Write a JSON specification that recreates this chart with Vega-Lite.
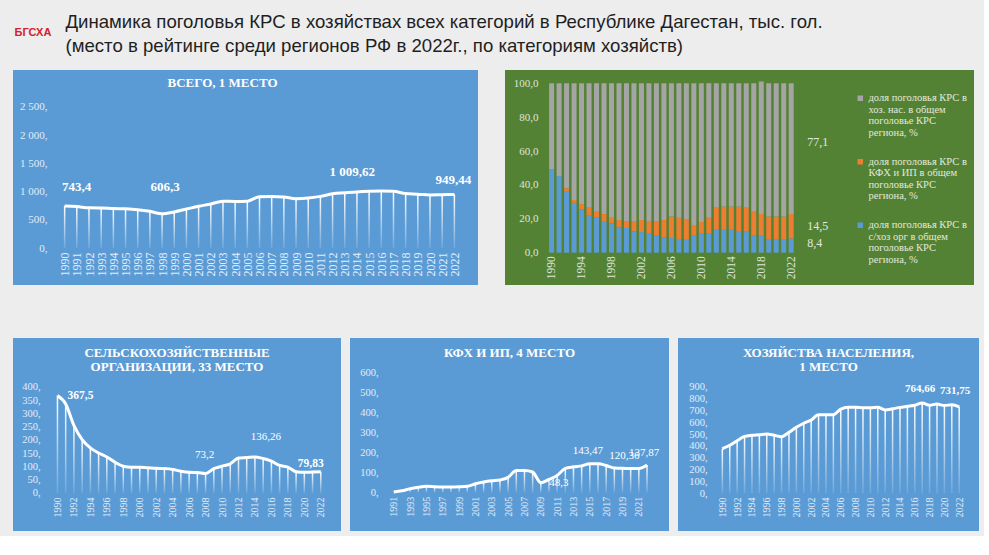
{
"$schema":"https://vega.github.io/schema/vega-lite/v6.json",
"background":"#ededed",
"padding":{"left":13,"top":10,"right":5,"bottom":5},
"config":{
 "view":{"stroke":null},
 "locale":{"number":{"decimal":",","thousands":" ","grouping":[3],"currency":["",""]}},
 "axis":{"domain":false,"ticks":false,"grid":false,"labelFont":"Liberation Serif","labelOverlap":false,"labelFlush":false,"labelBound":false,"labelColor":"#e3ecf7"},
 "title":{"font":"Liberation Serif","fontWeight":"bold","color":"#ffffff","anchor":"middle","frame":"group","fontSize":13,"lineHeight":14},
 "text":{"font":"Liberation Serif","color":"#ffffff"}
},
"spacing":12,
"vconcat":[
 {"bounds":"flush","spacing":12,"hconcat":[
  {"width":40,"height":48,"data":{"values":[{"t":"БГСХА"}]},
   "mark":{"type":"text","font":"Liberation Sans","fontWeight":"bold","fontSize":11,"color":"#d2232a","baseline":"middle","dy":-1},
   "encoding":{"text":{"field":"t"}}},
  {"width":1,"height":48,"data":{"values":[{"t":"Динамика поголовья КРС в хозяйствах всех категорий в Республике Дагестан, тыс. гол.\n(место в рейтинге среди регионов РФ в 2022г., по категориям хозяйств)"}]},
   "mark":{"type":"text","font":"Liberation Sans","fontSize":18.6,"color":"#1f1f1f","align":"left","baseline":"middle","lineBreak":"\n","lineHeight":24,"dy":-12},
   "encoding":{"text":{"field":"t"}}}
 ]},
 {"spacing":53,"vconcat":[
  {"bounds":"flush","spacing":27,"hconcat":[
   {
    "width":465,"height":215,
    "view":{"fill":"#5b9bd5","stroke":null},
    "title":{"text":"ВСЕГО, 1 МЕСТО","offset":-20,"dx":-23},
    "data":{"values":[
     {"year":1990,"value":743.4},{"year":1991,"value":735},{"year":1992,"value":712},{"year":1993,"value":710},
     {"year":1994,"value":700},{"year":1995,"value":695},{"year":1996,"value":680},{"year":1997,"value":650},
     {"year":1998,"value":606.3},{"year":1999,"value":640},{"year":2000,"value":690},{"year":2001,"value":740},
     {"year":2002,"value":780},{"year":2003,"value":830},{"year":2004,"value":825},{"year":2005,"value":830},
     {"year":2006,"value":910},{"year":2007,"value":915},{"year":2008,"value":905},{"year":2009,"value":875},
     {"year":2010,"value":885},{"year":2011,"value":915},{"year":2012,"value":960},{"year":2013,"value":978},
     {"year":2014,"value":995},{"year":2015,"value":1005},{"year":2016,"value":1009.62},{"year":2017,"value":1005},
     {"year":2018,"value":965},{"year":2019,"value":955},{"year":2020,"value":940},{"year":2021,"value":945},
     {"year":2022,"value":949.44}
    ]},
    "encoding":{
     "x":{"field":"year","type":"quantitative","scale":{"domain":[1986.17,2023.53],"nice":false,"zero":false},
      "axis":{"title":null,"values":[1990,1991,1992,1993,1994,1995,1996,1997,1998,1999,2000,2001,2002,2003,2004,2005,2006,2007,2008,2009,2010,2011,2012,2013,2014,2015,2016,2017,2018,2019,2020,2021,2022],"format":"d","labelAngle":-90,"labelFontSize":12,"offset":-37,"labelPadding":4}},
     "y":{"field":"value","type":"quantitative","scale":{"domain":[-656,3156],"nice":false,"zero":false},
      "axis":{"title":null,"values":[0,500,1000,1500,2000,2500],"format":",d","labelExpr":"datum.label + ','","labelFontSize":11,"offset":-34,"labelPadding":0}}
    },
    "layer":[
     {"mark":{"type":"bar","size":1.5,"color":{"gradient":"linear","x1":0,"y1":0,"x2":0,"y2":1,"stops":[{"offset":0,"color":"#ffffff"},{"offset":1,"color":"rgba(255,255,255,0.12)"}]}}},
     {"data":{"values":[{}]},"mark":{"type":"rule","color":"#ffffff","strokeWidth":3,"opacity":0.9},
      "encoding":{"x":{"datum":1989.5},"x2":{"datum":2022.5},"y":{"datum":0}}},
     {"data":{"values":[{}]},"mark":{"type":"rule","color":"#e8eef7","strokeWidth":1},
      "encoding":{"x":{"datum":1998},"y":{"datum":650},"y2":{"datum":985}}},
     {"data":{"values":[{}]},"mark":{"type":"rule","color":"#e8eef7","strokeWidth":1},
      "encoding":{"x":{"datum":2016},"y":{"datum":1050},"y2":{"datum":1350}}},
     {"data":{"values":[{}]},"mark":{"type":"rule","color":"#e8eef7","strokeWidth":1},
      "encoding":{"x":{"datum":2015.7},"x2":{"datum":2016},"y":{"datum":1350}}},
     {"mark":{"type":"line","interpolate":"monotone","color":"#ffffff","strokeWidth":3}},
     {"transform":[{"filter":"datum.year == 1990"}],"mark":{"type":"text","dx":12,"dy":-19,"fontWeight":"bold","fontSize":13},"encoding":{"text":{"field":"value","type":"quantitative","format":",.2~f"}}},
     {"transform":[{"filter":"datum.year == 1998"}],"mark":{"type":"text","dx":3,"dy":-27,"fontWeight":"bold","fontSize":13},"encoding":{"text":{"field":"value","type":"quantitative","format":",.2~f"}}},
     {"transform":[{"filter":"datum.year == 2016"}],"mark":{"type":"text","dx":-29,"dy":-19,"fontWeight":"bold","fontSize":13},"encoding":{"text":{"field":"value","type":"quantitative","format":",.2~f"}}},
     {"transform":[{"filter":"datum.year == 2022"}],"mark":{"type":"text","dx":-1,"dy":-14,"fontWeight":"bold","fontSize":13},"encoding":{"text":{"field":"value","type":"quantitative","format":",.2~f"}}}
    ]
   },
   {
    "width":469,"height":215,
    "view":{"fill":"#548235","stroke":null},
    "data":{"values":[
     {"year":1990,"cat":"с/хоз орг","n":1,"value":49.4},{"year":1990,"cat":"КФХ и ИП","n":2,"value":0},{"year":1990,"cat":"хоз. нас.","n":3,"value":50.6},
     {"year":1991,"cat":"с/хоз орг","n":1,"value":45.3},{"year":1991,"cat":"КФХ и ИП","n":2,"value":0},{"year":1991,"cat":"хоз. нас.","n":3,"value":54.7},
     {"year":1992,"cat":"с/хоз орг","n":1,"value":36.4},{"year":1992,"cat":"КФХ и ИП","n":2,"value":1.6},{"year":1992,"cat":"хоз. нас.","n":3,"value":62.0},
     {"year":1993,"cat":"с/хоз орг","n":1,"value":29.5},{"year":1993,"cat":"КФХ и ИП","n":2,"value":1.6},{"year":1993,"cat":"хоз. нас.","n":3,"value":68.9},
     {"year":1994,"cat":"с/хоз орг","n":1,"value":25.6},{"year":1994,"cat":"КФХ и ИП","n":2,"value":3.1},{"year":1994,"cat":"хоз. нас.","n":3,"value":71.3},
     {"year":1995,"cat":"с/хоз орг","n":1,"value":22.2},{"year":1995,"cat":"КФХ и ИП","n":2,"value":4.4},{"year":1995,"cat":"хоз. нас.","n":3,"value":73.4},
     {"year":1996,"cat":"с/хоз орг","n":1,"value":20.7},{"year":1996,"cat":"КФХ и ИП","n":2,"value":3.5},{"year":1996,"cat":"хоз. нас.","n":3,"value":75.8},
     {"year":1997,"cat":"с/хоз орг","n":1,"value":18.7},{"year":1997,"cat":"КФХ и ИП","n":2,"value":4.1},{"year":1997,"cat":"хоз. нас.","n":3,"value":77.2},
     {"year":1998,"cat":"с/хоз орг","n":1,"value":17.3},{"year":1998,"cat":"КФХ и ИП","n":2,"value":3.4},{"year":1998,"cat":"хоз. нас.","n":3,"value":79.3},
     {"year":1999,"cat":"с/хоз орг","n":1,"value":15.0},{"year":1999,"cat":"КФХ и ИП","n":2,"value":4.3},{"year":1999,"cat":"хоз. нас.","n":3,"value":80.7},
     {"year":2000,"cat":"с/хоз орг","n":1,"value":14.6},{"year":2000,"cat":"КФХ и ИП","n":2,"value":4.1},{"year":2000,"cat":"хоз. нас.","n":3,"value":81.3},
     {"year":2001,"cat":"с/хоз орг","n":1,"value":12.6},{"year":2001,"cat":"КФХ и ИП","n":2,"value":6.1},{"year":2001,"cat":"хоз. нас.","n":3,"value":81.3},
     {"year":2002,"cat":"с/хоз орг","n":1,"value":12.2},{"year":2002,"cat":"КФХ и ИП","n":2,"value":7.1},{"year":2002,"cat":"хоз. нас.","n":3,"value":80.7},
     {"year":2003,"cat":"с/хоз орг","n":1,"value":11.2},{"year":2003,"cat":"КФХ и ИП","n":2,"value":7.5},{"year":2003,"cat":"хоз. нас.","n":3,"value":81.3},
     {"year":2004,"cat":"с/хоз орг","n":1,"value":10.4},{"year":2004,"cat":"КФХ и ИП","n":2,"value":8.3},{"year":2004,"cat":"хоз. нас.","n":3,"value":81.3},
     {"year":2005,"cat":"с/хоз орг","n":1,"value":9.1},{"year":2005,"cat":"КФХ и ИП","n":2,"value":10.2},{"year":2005,"cat":"хоз. нас.","n":3,"value":80.7},
     {"year":2006,"cat":"с/хоз орг","n":1,"value":8.7},{"year":2006,"cat":"КФХ и ИП","n":2,"value":12.6},{"year":2006,"cat":"хоз. нас.","n":3,"value":78.7},
     {"year":2007,"cat":"с/хоз орг","n":1,"value":8.1},{"year":2007,"cat":"КФХ и ИП","n":2,"value":12.6},{"year":2007,"cat":"хоз. нас.","n":3,"value":79.3},
     {"year":2008,"cat":"с/хоз орг","n":1,"value":8.1},{"year":2008,"cat":"КФХ и ИП","n":2,"value":11.8},{"year":2008,"cat":"хоз. нас.","n":3,"value":80.1},
     {"year":2009,"cat":"с/хоз орг","n":1,"value":10.4},{"year":2009,"cat":"КФХ и ИП","n":2,"value":5.5},{"year":2009,"cat":"хоз. нас.","n":3,"value":84.1},
     {"year":2010,"cat":"с/хоз орг","n":1,"value":11.2},{"year":2010,"cat":"КФХ и ИП","n":2,"value":6.9},{"year":2010,"cat":"хоз. нас.","n":3,"value":81.9},
     {"year":2011,"cat":"с/хоз орг","n":1,"value":11.6},{"year":2011,"cat":"КФХ и ИП","n":2,"value":9.1},{"year":2011,"cat":"хоз. нас.","n":3,"value":79.3},
     {"year":2012,"cat":"с/хоз орг","n":1,"value":14.0},{"year":2012,"cat":"КФХ и ИП","n":2,"value":12.6},{"year":2012,"cat":"хоз. нас.","n":3,"value":73.4},
     {"year":2013,"cat":"с/хоз орг","n":1,"value":14.0},{"year":2013,"cat":"КФХ и ИП","n":2,"value":13.2},{"year":2013,"cat":"хоз. нас.","n":3,"value":72.8},
     {"year":2014,"cat":"с/хоз орг","n":1,"value":14.0},{"year":2014,"cat":"КФХ и ИП","n":2,"value":13.2},{"year":2014,"cat":"хоз. нас.","n":3,"value":72.8},
     {"year":2015,"cat":"с/хоз орг","n":1,"value":12.8},{"year":2015,"cat":"КФХ и ИП","n":2,"value":14.4},{"year":2015,"cat":"хоз. нас.","n":3,"value":72.8},
     {"year":2016,"cat":"с/хоз орг","n":1,"value":12.4},{"year":2016,"cat":"КФХ и ИП","n":2,"value":14.2},{"year":2016,"cat":"хоз. нас.","n":3,"value":73.4},
     {"year":2017,"cat":"с/хоз орг","n":1,"value":10.4},{"year":2017,"cat":"КФХ и ИП","n":2,"value":13.8},{"year":2017,"cat":"хоз. нас.","n":3,"value":75.8},
     {"year":2018,"cat":"с/хоз орг","n":1,"value":10.4},{"year":2018,"cat":"КФХ и ИП","n":2,"value":12.4},{"year":2018,"cat":"хоз. нас.","n":3,"value":78.2},
     {"year":2019,"cat":"с/хоз орг","n":1,"value":8.1},{"year":2019,"cat":"КФХ и ИП","n":2,"value":13.2},{"year":2019,"cat":"хоз. нас.","n":3,"value":78.7},
     {"year":2020,"cat":"с/хоз орг","n":1,"value":8.1},{"year":2020,"cat":"КФХ и ИП","n":2,"value":13.2},{"year":2020,"cat":"хоз. нас.","n":3,"value":78.7},
     {"year":2021,"cat":"с/хоз орг","n":1,"value":8.1},{"year":2021,"cat":"КФХ и ИП","n":2,"value":13.2},{"year":2021,"cat":"хоз. нас.","n":3,"value":78.7},
     {"year":2022,"cat":"с/хоз орг","n":1,"value":8.4},{"year":2022,"cat":"КФХ и ИП","n":2,"value":14.5},{"year":2022,"cat":"хоз. нас.","n":3,"value":77.1}
    ]},
    "layer":[
     {"mark":{"type":"bar","size":5},
      "encoding":{
       "x":{"field":"year","type":"quantitative","scale":{"domain":[1984.444,2045.75],"nice":false,"zero":false},
        "axis":{"title":null,"values":[1990,1992,1994,1996,1998,2000,2002,2004,2006,2008,2010,2012,2014,2016,2018,2020,2022],"format":"d","labelAngle":-90,"labelFontSize":11.5,"offset":-32.3,"labelPadding":3,"labelColor":"#dfe5d8"}},
       "y":{"field":"value","type":"quantitative","stack":"zero","scale":{"domain":[-19.07,107.85],"nice":false,"zero":false},
        "axis":{"title":null,"values":[0,10,20,30,40,50,60,70,80,90,100],"format":",.1f","labelFontSize":11,"offset":-33,"labelPadding":0,"labelColor":"#dfe5d8"}},
       "color":{"field":"cat","type":"nominal","scale":{"domain":["хоз. нас.","КФХ и ИП","с/хоз орг"],"range":["#a5a5a5","#ed7d31","#5b9bd5"]},
        "legend":{"title":null,"orient":"none","legendX":842,"legendY":83,"symbolType":"square","symbolSize":30,"symbolStrokeWidth":0,"labelFont":"Liberation Serif","labelFontSize":10.5,"labelColor":"#e2e8dc","labelLimit":200,"labelOffset":3,"rowPadding":17.5,
         "labelExpr":"datum.label == 'хоз. нас.' ? ['доля  поголовья КРС в', 'хоз. нас. в общем', 'поголовье КРС', 'региона, %'] : datum.label == 'КФХ и ИП' ? ['доля  поголовья КРС в', 'КФХ и ИП в общем', 'поголовье КРС', 'региона, %'] : ['доля  поголовья КРС в', 'с/хоз орг в общем', 'поголовье КРС', 'региона, %']",
         "encode":{"labels":{"update":{"lineHeight":{"value":11.5}}}}}},
       "order":{"field":"n","type":"quantitative"}
      }},
     {"transform":[{"filter":"datum.year == 2022 && datum.cat == 'хоз. нас.'"}],"mark":{"type":"text","align":"left","dx":16,"dy":19.6,"fontSize":12,"color":"#e2e8dc"},
      "encoding":{"x":{"field":"year","type":"quantitative"},"y":{"field":"value","type":"quantitative","stack":null},"text":{"field":"value","type":"quantitative","format":",.1f"}}},
     {"transform":[{"filter":"datum.year == 2022 && datum.cat == 'КФХ и ИП'"}],"mark":{"type":"text","align":"left","dx":16,"dy":-2,"fontSize":12,"color":"#e2e8dc"},
      "encoding":{"x":{"field":"year","type":"quantitative"},"y":{"field":"value","type":"quantitative","stack":null},"text":{"field":"value","type":"quantitative","format":",.1f"}}},
     {"transform":[{"filter":"datum.year == 2022 && datum.cat == 'с/хоз орг'"}],"mark":{"type":"text","align":"left","dx":16,"dy":4.5,"fontSize":12,"color":"#e2e8dc"},
      "encoding":{"x":{"field":"year","type":"quantitative"},"y":{"field":"value","type":"quantitative","stack":null},"text":{"field":"value","type":"quantitative","format":",.1f"}}}
    ]
   }
  ]},
  {"bounds":"flush","spacing":9,"hconcat":[
   {
    "width":328,"height":193,
    "view":{"fill":"#5b9bd5","stroke":null},
    "title":{"text":["СЕЛЬСКОХОЗЯЙСТВЕННЫЕ","ОРГАНИЗАЦИИ, 33 МЕСТО"],"offset":-36},
    "data":{"values":[
     {"year":1990,"value":367.5},{"year":1991,"value":336},{"year":1992,"value":255},{"year":1993,"value":201},
     {"year":1994,"value":170},{"year":1995,"value":151},{"year":1996,"value":136},{"year":1997,"value":116},
     {"year":1998,"value":101},{"year":1999,"value":97},{"year":2000,"value":97},{"year":2001,"value":95},
     {"year":2002,"value":93},{"year":2003,"value":92},{"year":2004,"value":89},{"year":2005,"value":82},
     {"year":2006,"value":78},{"year":2007,"value":77},{"year":2008,"value":73.2},{"year":2009,"value":92},
     {"year":2010,"value":101},{"year":2011,"value":110},{"year":2012,"value":132},{"year":2013,"value":134},
     {"year":2014,"value":136.26},{"year":2015,"value":130},{"year":2016,"value":120},{"year":2017,"value":104},
     {"year":2018,"value":98},{"year":2019,"value":80},{"year":2020,"value":78},{"year":2021,"value":79},
     {"year":2022,"value":79.83}
    ]},
    "encoding":{
     "x":{"field":"year","type":"quantitative","scale":{"domain":[1985.205,2023.85],"nice":false,"zero":false},
      "axis":{"title":null,"values":[1990,1992,1994,1996,1998,2000,2002,2004,2006,2008,2010,2012,2014,2016,2018,2020,2022],"format":"d","labelAngle":-90,"labelFontSize":10,"offset":-38,"labelPadding":4}},
     "y":{"field":"value","type":"quantitative","scale":{"domain":[-143.4,584.9],"nice":false,"zero":false},
      "axis":{"title":null,"values":[0,50,100,150,200,250,300,350,400],"format":",d","labelExpr":"datum.label + ','","labelFontSize":10.5,"offset":-27,"labelPadding":0}}
    },
    "layer":[
     {"mark":{"type":"bar","size":1.5,"color":{"gradient":"linear","x1":0,"y1":0,"x2":0,"y2":1,"stops":[{"offset":0,"color":"#ffffff"},{"offset":1,"color":"rgba(255,255,255,0.12)"}]}}},
     {"data":{"values":[{}]},"mark":{"type":"rule","color":"#ffffff","strokeWidth":2.5,"opacity":0.9},
      "encoding":{"x":{"datum":1989.5},"x2":{"datum":2022.5},"y":{"datum":0}}},
     {"mark":{"type":"line","interpolate":"monotone","color":"#ffffff","strokeWidth":3}},
     {"transform":[{"filter":"datum.year == 1990"}],"mark":{"type":"text","dx":23,"dy":0,"fontWeight":"bold","fontSize":11.5},"encoding":{"text":{"field":"value","type":"quantitative","format":",.2~f"}}},
     {"transform":[{"filter":"datum.year == 2008"}],"mark":{"type":"text","dx":-1,"dy":-19,"fontSize":11},"encoding":{"text":{"field":"value","type":"quantitative","format":",.2~f"}}},
     {"transform":[{"filter":"datum.year == 2014"}],"mark":{"type":"text","dx":11,"dy":-20,"fontSize":11},"encoding":{"text":{"field":"value","type":"quantitative","format":",.2~f"}}},
     {"transform":[{"filter":"datum.year == 2022"}],"mark":{"type":"text","dx":-10,"dy":-8,"fontWeight":"bold","fontSize":11.5},"encoding":{"text":{"field":"value","type":"quantitative","format":",.2~f"}}}
    ]
   },
   {
    "width":319,"height":193,
    "view":{"fill":"#5b9bd5","stroke":null},
    "title":{"text":"КФХ И ИП, 4 МЕСТО","offset":-22},
    "data":{"values":[
     {"year":1991,"value":2},{"year":1992,"value":8},{"year":1993,"value":18},{"year":1994,"value":25},
     {"year":1995,"value":30},{"year":1996,"value":28},{"year":1997,"value":27},{"year":1998,"value":27},
     {"year":1999,"value":28},{"year":2000,"value":30},{"year":2001,"value":43},{"year":2002,"value":52},
     {"year":2003,"value":58},{"year":2004,"value":62},{"year":2005,"value":75},{"year":2006,"value":110},
     {"year":2007,"value":110},{"year":2008,"value":102},{"year":2009,"value":48.3},{"year":2010,"value":65},
     {"year":2011,"value":85},{"year":2012,"value":120},{"year":2013,"value":128},{"year":2014,"value":133},
     {"year":2015,"value":143.47},{"year":2016,"value":143},{"year":2017,"value":135},{"year":2018,"value":122},
     {"year":2019,"value":120.36},{"year":2020,"value":120},{"year":2021,"value":120},{"year":2022,"value":137.87}
    ]},
    "encoding":{
     "x":{"field":"year","type":"quantitative","scale":{"domain":[1986.257,2024.08],"nice":false,"zero":false},
      "axis":{"title":null,"values":[1991,1993,1995,1997,1999,2001,2003,2005,2007,2009,2011,2013,2015,2017,2019,2021],"format":"d","labelAngle":-90,"labelFontSize":10,"offset":-38.7,"labelPadding":4}},
     "y":{"field":"value","type":"quantitative","scale":{"domain":[-194.6,776],"nice":false,"zero":false},
      "axis":{"title":null,"values":[0,100,200,300,400,500,600],"format":",d","labelExpr":"datum.label + ','","labelFontSize":10.5,"offset":-28,"labelPadding":0}}
    },
    "layer":[
     {"mark":{"type":"bar","size":1.5,"color":{"gradient":"linear","x1":0,"y1":0,"x2":0,"y2":1,"stops":[{"offset":0,"color":"#ffffff"},{"offset":1,"color":"rgba(255,255,255,0.12)"}]}}},
     {"data":{"values":[{}]},"mark":{"type":"rule","color":"#ffffff","strokeWidth":2.5,"opacity":0.9},
      "encoding":{"x":{"datum":1990.6},"x2":{"datum":2022.5},"y":{"datum":0}}},
     {"mark":{"type":"line","interpolate":"monotone","color":"#ffffff","strokeWidth":3}},
     {"transform":[{"filter":"datum.year == 2009"}],"mark":{"type":"text","dx":18,"dy":0,"fontSize":11},"encoding":{"text":{"field":"value","type":"quantitative","format":",.2~f"}}},
     {"transform":[{"filter":"datum.year == 2015"}],"mark":{"type":"text","dx":-2,"dy":-13,"fontSize":11},"encoding":{"text":{"field":"value","type":"quantitative","format":",.2~f"}}},
     {"transform":[{"filter":"datum.year == 2019"}],"mark":{"type":"text","dx":2,"dy":-12,"fontSize":11},"encoding":{"text":{"field":"value","type":"quantitative","format":",.2~f"}}},
     {"transform":[{"filter":"datum.year == 2022"}],"mark":{"type":"text","dx":-3,"dy":-12,"fontSize":11},"encoding":{"text":{"field":"value","type":"quantitative","format":",.2~f"}}}
    ]
   },
   {
    "width":301,"height":193,
    "view":{"fill":"#5b9bd5","stroke":null},
    "title":{"text":["ХОЗЯЙСТВА НАСЕЛЕНИЯ,","1 МЕСТО"],"offset":-36},
    "data":{"values":[
     {"year":1990,"value":376},{"year":1991,"value":405},{"year":1992,"value":444},{"year":1993,"value":481},
     {"year":1994,"value":490},{"year":1995,"value":495},{"year":1996,"value":501},{"year":1997,"value":490},
     {"year":1998,"value":478},{"year":1999,"value":515},{"year":2000,"value":558},{"year":2001,"value":592},
     {"year":2002,"value":620},{"year":2003,"value":665},{"year":2004,"value":665},{"year":2005,"value":665},
     {"year":2006,"value":713},{"year":2007,"value":727},{"year":2008,"value":727},{"year":2009,"value":724},
     {"year":2010,"value":724},{"year":2011,"value":727},{"year":2012,"value":705},{"year":2013,"value":715},
     {"year":2014,"value":727},{"year":2015,"value":736},{"year":2016,"value":745},{"year":2017,"value":764.66},
     {"year":2018,"value":745},{"year":2019,"value":755},{"year":2020,"value":742},{"year":2021,"value":750},
     {"year":2022,"value":731.75}
    ]},
    "encoding":{
     "x":{"field":"year","type":"quantitative","scale":{"domain":[1984.684,2024.0],"nice":false,"zero":false},
      "axis":{"title":null,"values":[1990,1992,1994,1996,1998,2000,2002,2004,2006,2008,2010,2012,2014,2016,2018,2020,2022],"format":"d","labelAngle":-90,"labelFontSize":10,"offset":-38,"labelPadding":4}},
     "y":{"field":"value","type":"quantitative","scale":{"domain":[-322.6,1316],"nice":false,"zero":false},
      "axis":{"title":null,"values":[0,100,200,300,400,500,600,700,800,900],"format":",d","labelExpr":"datum.label + ','","labelFontSize":10.5,"offset":-29,"labelPadding":0}}
    },
    "layer":[
     {"mark":{"type":"bar","size":1.5,"color":{"gradient":"linear","x1":0,"y1":0,"x2":0,"y2":1,"stops":[{"offset":0,"color":"#ffffff"},{"offset":1,"color":"rgba(255,255,255,0.12)"}]}}},
     {"data":{"values":[{}]},"mark":{"type":"rule","color":"#ffffff","strokeWidth":2.5,"opacity":0.9},
      "encoding":{"x":{"datum":1989.35},"x2":{"datum":2022.65},"y":{"datum":0}}},
     {"mark":{"type":"line","interpolate":"monotone","color":"#ffffff","strokeWidth":3}},
     {"transform":[{"filter":"datum.year == 2017"}],"mark":{"type":"text","dx":-2,"dy":-14,"fontWeight":"bold","fontSize":11},"encoding":{"text":{"field":"value","type":"quantitative","format":",.2~f"}}},
     {"transform":[{"filter":"datum.year == 2022"}],"mark":{"type":"text","dx":-4,"dy":-16,"fontWeight":"bold","fontSize":11},"encoding":{"text":{"field":"value","type":"quantitative","format":",.2~f"}}}
    ]
   }
  ]}
 ]}
]
}
